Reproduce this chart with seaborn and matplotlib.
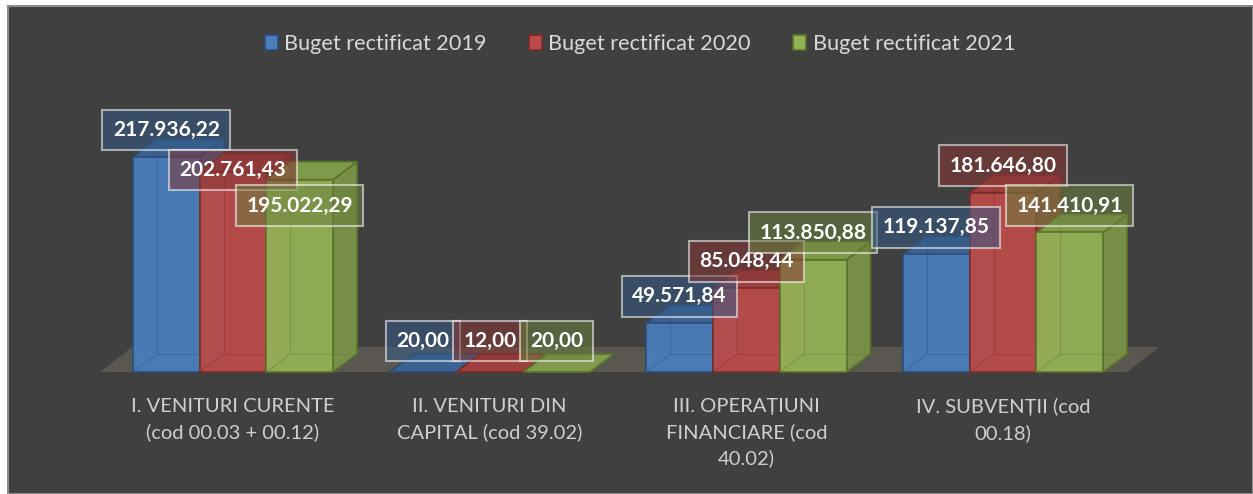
import numpy as np
import pandas as pd
import matplotlib
matplotlib.use("Agg")
import matplotlib.pyplot as plt
import seaborn as sns
from matplotlib.patches import Polygon, Rectangle, Patch
from matplotlib.colors import to_rgb

# Data
categories = [
    "I. VENITURI CURENTE\n(cod 00.03 + 00.12)",
    "II. VENITURI DIN\nCAPITAL (cod 39.02)",
    "III. OPERAȚIUNI\nFINANCIARE (cod\n40.02)",
    "IV. SUBVENȚII (cod\n00.18)",
]
series = ["Buget rectificat 2019", "Buget rectificat 2020", "Buget rectificat 2021"]
buget_2019 = [217936.22, 20.00, 49571.84, 119137.85]
buget_2020 = [202761.43, 12.00, 85048.44, 181646.80]
buget_2021 = [195022.29, 20.00, 113850.88, 141410.91]

# extra downward nudge (px) for labels Excel pushed to avoid overlaps
label_nudge = {(0, 1): 25, (0, 2): 53}

# colours: front, side, top, edge
front = ["#4a7dba", "#b94b49", "#93b256"]
side = ["#3d679b", "#9a3c3a", "#7a9347"]
top = ["#3b6396", "#a23f3d", "#83a04b"]
edge = ["#2b4c78", "#7a2b2a", "#5a7128"]
BG = "#404040"
TXT = "#d9d9d9"

df = pd.DataFrame({
    "categorie": categories * 3,
    "serie": np.repeat(series, len(categories)),
    "valoare": buget_2019 + buget_2020 + buget_2021,
})

W, H = 1253, 494
fig = plt.figure(figsize=(W / 100, H / 100), dpi=100)
fig.patch.set_facecolor("white")
fig.patches.append(Rectangle((8 / W, 0), (W - 8) / W, (H - 6) / H,
                             transform=fig.transFigure, facecolor=BG,
                             edgecolor="#8c8c8c", lw=1.5, zorder=-10))

ax_bottom = 104
ax = fig.add_axes([0, ax_bottom / H, 1, (H - ax_bottom) / H])
ax.set_facecolor("none")
ax.set_zorder(1)

# pixel scale: category spacing and value per pixel
cat_px, x0_px = 256.7, 233.0
val_per_px = 1013.6
zero_px = 372  # from top

sns.barplot(data=df, x="categorie", y="valoare", hue="serie", order=categories,
            hue_order=series, palette=front, width=0.78, ax=ax, legend=False,
            saturation=1)
ax.set_xlim(-x0_px / cat_px, (W - x0_px) / cat_px)
ax.set_ylim(-(H - ax_bottom - zero_px) * val_per_px, zero_px * val_per_px)

dxu = 1 / cat_px          # data units per px (x)
dyu = val_per_px          # data units per px (y)

# floor
fdx, fdy = 32 * dxu, 25 * dyu
fl, fr = -0.518, 3.483
ax.add_patch(Polygon([(fl, 0), (fr, 0), (fr + fdx, fdy), (fl + fdx, fdy)],
                     closed=True, facecolor="#5a5650", edgecolor="none", zorder=1))

bdx, bdy = 24 * dxu, 18 * dyu
info = []
for p in list(ax.patches):
    if not isinstance(p, Rectangle) or p.get_width() == 0:
        continue
    x, w = p.get_x(), p.get_width()
    xc = x + w / 2
    ci = int(round(xc))
    si = int(round((xc - ci) / w)) + 1
    info.append((ci, si, p))
info.sort(key=lambda t: (t[0], t[1]))

for ci, si, p in info:
    x, w, h = p.get_x(), p.get_width(), p.get_height()
    z = 3 + ci * 3 + si
    p.set_facecolor(front[si])
    p.set_edgecolor(edge[si])
    p.set_linewidth(1.2)
    p.set_alpha(0.95)
    p.set_zorder(z + 0.3)
    # side face
    ax.add_patch(Polygon([(x + w, 0), (x + w + bdx, bdy), (x + w + bdx, h + bdy), (x + w, h)],
                         closed=True, facecolor=side[si], edgecolor=edge[si], lw=1.2,
                         alpha=0.95, zorder=z + 0.1))
    # top face
    ax.add_patch(Polygon([(x, h), (x + w, h), (x + w + bdx, h + bdy), (x + bdx, h + bdy)],
                         closed=True, facecolor=top[si], edgecolor=edge[si], lw=1.2,
                         alpha=0.95, zorder=z + 0.2))
    # back edges seen through the transparent front
    ax.plot([x + bdx, x + bdx, x + w + bdx], [h + bdy, bdy, bdy], color=edge[si],
            lw=0.8, alpha=0.35, zorder=z + 0.4)
    ax.plot([x, x + bdx], [0, bdy], color=edge[si], lw=0.8, alpha=0.35, zorder=z + 0.4)

# data labels
for ci, si, p in info:
    x, w, h = p.get_x(), p.get_width(), p.get_height()
    txt = f"{h:,.2f}".replace(",", " ").replace(".", ",").replace(" ", ".")
    off = 27 - label_nudge.get((ci, si), 0)
    if h < 1000:
        off = 31
    r, g, b = to_rgb(front[si])
    ax.annotate(txt, (x + w / 2, h), xytext=(0, off * 0.72), textcoords="offset points",
                ha="center", va="center", color="white", fontsize=15, fontweight="bold",
                family=["Lato", "DejaVu Sans"], zorder=30, annotation_clip=False,
                bbox=dict(boxstyle="square,pad=0.5", facecolor=(r * 0.72, g * 0.72, b * 0.72, 0.55),
                          edgecolor=(1, 1, 1, 0.55), lw=1.5))

ax.set_xticks(range(len(categories)))
ax.set_xticklabels(categories, color="#cfcfcf", fontsize=14.5, family=["Lato", "DejaVu Sans"],
                   linespacing=1.55)
ax.tick_params(axis="x", length=0, pad=6)
ax.set_yticks([])
ax.set_xlabel("")
ax.set_ylabel("")
for s in ax.spines.values():
    s.set_visible(False)

handles = [Patch(facecolor=front[i], edgecolor=edge[i], lw=1.2, label=series[i]) for i in range(3)]
fig.legend(handles=handles, loc="center", bbox_to_anchor=(640 / W, 1 - 44 / H), ncol=3,
           frameon=False, labelcolor=TXT, handlelength=0.6, handleheight=0.7,
           handletextpad=0.3, columnspacing=1.95, prop={"family": ["Lato", "DejaVu Sans"], "size": 15.6})

fig.savefig("out.png", dpi=100, facecolor=fig.get_facecolor())
